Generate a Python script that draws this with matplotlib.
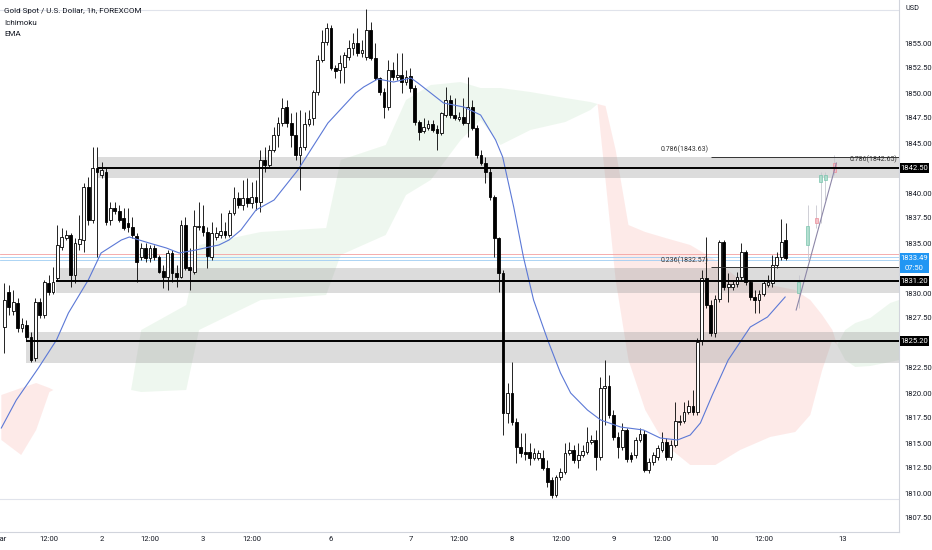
import matplotlib
matplotlib.use("Agg")
import matplotlib.pyplot as plt
import numpy as np
from matplotlib.patches import Rectangle
from matplotlib.ticker import FormatStrFormatter
from matplotlib.transforms import blended_transform_factory

plt.rcParams['font.family'] = ['Liberation Sans Narrow', 'Roboto', 'DejaVu Sans']

# hourly candles
opens = [1826.6, 1830.1, 1828.2, 1829.0, 1826.5, 1826.8, 1825.6, 1823.5, 1829.1, 1827.8,
         1831.0, 1830.1, 1831.5, 1834.6, 1835.5, 1835.8, 1831.8, 1834.9, 1835.3, 1840.6,
         1837.3, 1842.5, 1841.8, 1842.1, 1837.3, 1838.5, 1838.2, 1837.5, 1837.0, 1836.6,
         1835.7, 1833.6, 1834.5, 1833.5, 1834.5, 1833.6, 1832.2, 1831.6, 1834.0, 1832.0,
         1831.6, 1836.8, 1832.6, 1832.1, 1836.6, 1836.7, 1836.1, 1833.6, 1835.6, 1835.8,
         1836.2, 1835.8, 1838.0, 1839.5, 1838.8, 1839.5, 1839.0, 1839.6, 1839.1, 1843.3,
         1842.8, 1844.3, 1845.8, 1847.0, 1848.6, 1847.0, 1845.8, 1843.8, 1844.6, 1846.9,
         1847.5, 1850.1, 1853.3, 1855.1, 1856.5, 1852.5, 1852.3, 1852.6, 1853.6, 1854.5,
         1855.0, 1854.0, 1853.6, 1856.3, 1853.5, 1851.5, 1850.1, 1848.6, 1852.3, 1851.6,
         1851.8, 1851.1, 1851.7, 1850.5, 1847.1, 1846.2, 1846.5, 1846.9, 1846.4, 1846.0,
         1847.8, 1849.3, 1847.8, 1847.4, 1847.6, 1847.0, 1848.6, 1846.5, 1843.8, 1843.0,
         1842.1, 1839.6, 1835.5, 1832.0, 1818.0, 1820.0, 1817.1, 1814.6, 1814.1, 1814.1,
         1813.5, 1813.5, 1813.5, 1812.5, 1811.3, 1809.8, 1811.6, 1812.1, 1814.0, 1814.3,
         1813.3, 1813.8, 1814.1, 1815.1, 1815.3, 1813.6, 1820.5, 1820.7, 1817.8, 1815.6,
         1814.6, 1816.3, 1813.8, 1813.8, 1815.3, 1815.9, 1812.3, 1813.1, 1813.6, 1814.3,
         1815.1, 1813.6, 1814.8, 1817.1, 1817.2, 1818.1, 1818.7, 1818.1, 1825.3, 1831.5,
         1828.8, 1826.0, 1829.4, 1835.1, 1830.6, 1830.6, 1830.9, 1831.6, 1834.1, 1831.1,
         1829.6, 1829.3, 1829.9, 1830.8, 1831.0, 1832.8, 1833.6, 1835.3]
highs = [1831.0, 1830.8, 1830.3, 1829.5, 1827.5, 1827.3, 1826.1, 1829.5, 1829.5, 1831.3,
         1831.8, 1832.6, 1836.8, 1836.5, 1836.3, 1836.0, 1835.5, 1837.8, 1841.0, 1841.6,
         1844.6, 1844.6, 1843.1, 1842.5, 1839.1, 1839.1, 1838.8, 1838.5, 1838.5, 1837.6,
         1836.0, 1835.0, 1835.0, 1834.8, 1834.8, 1833.8, 1832.8, 1834.3, 1834.3, 1832.8,
         1837.3, 1837.6, 1834.5, 1838.3, 1839.1, 1838.8, 1836.6, 1837.1, 1836.6, 1838.0,
         1837.1, 1838.3, 1840.6, 1840.1, 1841.3, 1841.5, 1841.1, 1841.3, 1844.3, 1844.6,
         1844.8, 1846.6, 1847.6, 1849.5, 1849.3, 1848.0, 1848.1, 1848.3, 1848.1, 1848.3,
         1850.3, 1853.8, 1856.3, 1857.0, 1856.8, 1852.8, 1853.8, 1854.1, 1855.3, 1856.0,
         1856.5, 1855.3, 1858.4, 1857.1, 1855.0, 1851.6, 1850.5, 1853.3, 1853.1, 1854.0,
         1854.0, 1852.3, 1852.5, 1850.8, 1847.3, 1847.5, 1847.3, 1847.3, 1846.8, 1848.1,
         1850.6, 1849.8, 1849.5, 1848.1, 1849.5, 1851.6, 1849.3, 1846.8, 1844.3, 1843.6,
         1842.6, 1839.8, 1835.6, 1832.3, 1821.0, 1823.1, 1817.5, 1816.0, 1816.0, 1815.0,
         1814.5, 1814.3, 1814.3, 1813.3, 1811.6, 1811.8, 1812.5, 1815.0, 1815.1, 1814.8,
         1815.0, 1814.8, 1816.6, 1815.8, 1816.3, 1821.6, 1823.3, 1821.8, 1818.3, 1816.1,
         1817.0, 1816.5, 1814.1, 1815.6, 1816.5, 1816.3, 1813.5, 1814.1, 1814.8, 1816.1,
         1815.5, 1815.3, 1819.1, 1817.8, 1819.1, 1819.3, 1820.3, 1825.5, 1832.3, 1835.6,
         1829.3, 1829.8, 1835.3, 1835.3, 1832.0, 1831.3, 1832.1, 1835.0, 1834.3, 1831.3,
         1830.3, 1830.3, 1831.3, 1831.8, 1833.8, 1834.1, 1837.4, 1837.0]
lows = [1824.0, 1827.8, 1827.8, 1826.1, 1826.1, 1825.3, 1823.1, 1823.2, 1827.5, 1827.5,
        1829.8, 1829.9, 1831.3, 1834.3, 1835.3, 1830.6, 1831.0, 1834.3, 1834.1, 1836.8,
        1837.0, 1833.6, 1841.5, 1836.8, 1836.8, 1837.9, 1837.1, 1836.3, 1836.1, 1835.5,
        1831.1, 1833.3, 1833.1, 1833.1, 1833.3, 1832.0, 1830.5, 1830.3, 1831.1, 1830.6,
        1831.5, 1832.3, 1830.3, 1831.9, 1836.3, 1835.7, 1832.5, 1833.3, 1835.3, 1835.5,
        1835.5, 1835.6, 1837.8, 1838.5, 1838.3, 1838.6, 1838.5, 1838.3, 1838.1, 1842.1,
        1842.5, 1844.1, 1844.6, 1846.7, 1846.6, 1844.6, 1843.3, 1840.3, 1844.3, 1846.7,
        1846.8, 1849.8, 1853.1, 1854.8, 1852.3, 1851.5, 1851.0, 1851.0, 1853.3, 1853.8,
        1853.7, 1853.6, 1853.3, 1853.3, 1851.3, 1849.8, 1847.5, 1848.3, 1851.3, 1851.3,
        1850.0, 1850.8, 1850.1, 1846.8, 1845.3, 1846.0, 1846.3, 1846.1, 1844.3, 1845.8,
        1847.6, 1847.5, 1847.3, 1847.2, 1846.8, 1845.6, 1846.3, 1843.5, 1842.8, 1841.0,
        1839.3, 1833.6, 1830.1, 1815.8, 1817.0, 1816.8, 1813.0, 1813.6, 1813.3, 1812.8,
        1813.3, 1813.3, 1812.3, 1810.6, 1809.5, 1809.6, 1811.3, 1811.9, 1813.8, 1813.0,
        1812.5, 1813.6, 1813.9, 1814.9, 1812.3, 1813.3, 1816.8, 1817.5, 1815.3, 1813.5,
        1814.3, 1813.1, 1813.1, 1813.5, 1815.1, 1812.1, 1812.0, 1812.8, 1813.3, 1814.1,
        1813.3, 1813.3, 1814.6, 1816.8, 1817.0, 1817.9, 1817.8, 1817.8, 1824.8, 1828.5,
        1825.7, 1825.6, 1829.1, 1830.3, 1829.1, 1830.3, 1830.6, 1831.3, 1830.8, 1829.3,
        1828.0, 1828.0, 1829.7, 1830.6, 1830.6, 1832.5, 1833.3, 1833.3]
closes = [1829.3, 1828.6, 1829.1, 1826.5, 1826.9, 1825.6, 1823.3, 1829.1, 1827.8, 1831.1,
          1830.1, 1831.1, 1834.8, 1835.6, 1835.8, 1831.8, 1835.0, 1835.4, 1840.6, 1837.3,
          1842.5, 1842.1, 1842.3, 1837.1, 1838.5, 1838.2, 1837.3, 1836.5, 1836.6, 1835.8,
          1833.1, 1834.5, 1833.5, 1834.5, 1833.6, 1832.1, 1831.6, 1834.0, 1832.0, 1831.6,
          1836.8, 1832.5, 1832.3, 1836.7, 1836.7, 1836.1, 1833.7, 1836.0, 1836.0, 1836.2,
          1835.8, 1838.0, 1839.5, 1838.8, 1839.5, 1839.0, 1839.6, 1839.1, 1843.3, 1842.8,
          1844.3, 1845.8, 1847.0, 1848.5, 1847.0, 1845.8, 1843.8, 1844.6, 1846.9, 1847.4,
          1850.1, 1853.3, 1855.1, 1856.5, 1852.5, 1852.2, 1853.0, 1853.8, 1854.5, 1855.0,
          1854.0, 1854.3, 1856.3, 1853.5, 1851.5, 1850.1, 1848.6, 1852.3, 1851.6, 1851.8,
          1851.1, 1851.6, 1850.5, 1847.1, 1846.1, 1846.6, 1846.9, 1846.3, 1846.0, 1848.0,
          1849.3, 1847.8, 1847.5, 1847.6, 1847.0, 1848.6, 1846.5, 1843.8, 1843.0, 1842.1,
          1839.6, 1835.5, 1832.0, 1818.0, 1820.0, 1817.1, 1814.6, 1814.0, 1813.9, 1813.5,
          1814.0, 1814.0, 1812.5, 1811.1, 1809.8, 1811.6, 1812.1, 1814.0, 1814.3, 1813.3,
          1813.8, 1814.2, 1815.1, 1815.3, 1813.6, 1820.5, 1820.7, 1817.8, 1815.6, 1814.6,
          1816.3, 1813.4, 1813.4, 1815.3, 1815.9, 1812.3, 1813.1, 1813.8, 1814.5, 1815.1,
          1813.6, 1814.8, 1817.2, 1817.2, 1818.1, 1818.7, 1818.1, 1825.1, 1831.5, 1828.8,
          1826.0, 1829.4, 1835.1, 1830.6, 1830.9, 1830.9, 1831.6, 1834.1, 1831.1, 1829.6,
          1829.3, 1829.9, 1831.0, 1831.1, 1832.8, 1833.6, 1835.1, 1833.49]

# EMA line (bar index, price)
ema_x = [-0.7, 2.7, 7.7, 11.8, 14.5, 19.0, 21.9, 26.5, 28.3, 32.8,
         36.7, 39.6, 43.4, 46.4, 48.6, 50.9, 53.6, 57.0, 61.1, 66.5,
         73.3, 79.6, 81.4, 84.6, 88.2, 92.1, 93.7, 96.6, 99.5, 104.1,
         107.9, 111.3, 112.9, 115.4, 117.6, 119.9, 123.1, 126.0, 128.3, 132.1,
         135.1, 139.6, 144.8, 148.6, 152.5, 155.4, 157.7, 160.4, 164.0, 169.0,
         172.9, 176.9]
ema_y = [1816.5, 1819.3, 1822.5, 1825.3, 1828.0, 1831.3, 1834.0, 1835.3, 1835.6, 1835.0,
         1834.5, 1834.0, 1834.3, 1834.6, 1834.8, 1835.3, 1836.3, 1838.3, 1839.3, 1842.3,
         1847.0, 1850.0, 1850.6, 1851.4, 1851.1, 1851.5, 1851.0, 1850.0, 1849.0, 1848.6,
         1847.8, 1845.3, 1843.6, 1838.6, 1833.6, 1829.3, 1825.3, 1822.0, 1820.0, 1818.3,
         1817.3, 1816.6, 1816.3, 1815.5, 1815.3, 1815.8, 1817.0, 1819.8, 1823.3, 1826.6,
         1827.6, 1829.6]

# Ichimoku cloud spans
cloud_x = [-0.7, 3.8, 7.2, 10.2, 11.1, 28.7, 31.0, 41.2, 44.1, 58.1,
           72.9, 76.2, 86.4, 91.0, 96.6, 103.4, 107.9, 112.4, 119.2, 127.1,
           132.8, 134.4, 136.2, 138.5, 141.4, 145.2, 149.8, 155.4, 161.1, 166.7,
           173.5, 179.2, 182.6, 185.3, 187.6, 188.7, 190.5, 192.8, 196.2, 200.7, 202.7]
span_a = [1815.3, 1813.8, 1816.3, 1820.1, 1820.3, 1820.3, 1826.3, 1828.8, 1834.8, 1836.1,
          1836.5, 1843.3, 1844.8, 1849.3, 1850.8, 1851.1, 1850.5, 1850.5, 1850.1, 1849.5,
          1849.1, 1848.9, 1841.3, 1831.3, 1823.3, 1818.3, 1814.8, 1812.8, 1812.8, 1814.3,
          1815.6, 1816.1, 1817.8, 1822.3, 1825.3, 1824.8, 1826.3, 1827.0, 1827.5, 1829.0, 1829.3]
span_b = [1819.8, 1820.5, 1821.0, 1820.5, 1820.3, 1820.3, 1820.1, 1820.3, 1826.3, 1829.3,
          1829.8, 1833.8, 1835.8, 1839.8, 1841.3, 1845.3, 1847.3, 1844.8, 1846.3, 1847.1,
          1848.3, 1848.9, 1848.7, 1844.3, 1836.8, 1836.1, 1835.5, 1834.8, 1833.3, 1831.3,
          1830.8, 1830.3, 1829.3, 1827.8, 1826.3, 1824.8, 1823.3, 1822.6, 1822.7, 1823.1, 1823.3]

# projected (ghost) bars
proj_x = [180, 182, 184, 185, 186, 188]
proj_open = [1830.0, 1834.8, 1837.5, 1841.1, 1841.3, 1843.0]
proj_high = [1831.8, 1838.8, 1838.8, 1842.1, 1842.1, 1843.8]
proj_low = [1828.5, 1833.3, 1836.5, 1837.0, 1839.3, 1841.8]
proj_close = [1831.1, 1836.7, 1837.0, 1841.8, 1841.8, 1842.1]
proj_line_x = [179.4, 188.5]
proj_line_y = [1828.3, 1843.0]

# support / resistance zones
levels = [1842.5, 1831.2, 1825.2]
zone_start = [21.3, 11.8, 5.0]
zone_low = [1841.5, 1830.0, 1823.0]
zone_high = [1843.6, 1832.5, 1826.1]

fib_levels = [1843.63, 1832.57]
fib_labels = ['0.786(1843.63)', '0.236(1832.57)']

price_ticks = [1807.5, 1810.0, 1812.5, 1815.0, 1817.5, 1820.0, 1822.5, 1827.5,
               1830.0, 1835.0, 1837.5, 1840.0, 1845.0, 1847.5, 1850.0, 1852.5, 1855.0]
tick_pos = [-1, 10, 22, 33, 45, 56, 74, 92, 103, 115, 126, 138, 149, 161, 172, 190]
tick_labels = ['Mar', '12:00', '2', '12:00', '3', '12:00', '6', '7', '12:00', '8',
               '12:00', '9', '12:00', '10', '12:00', '13']

last_price = 1833.49
X_MAX = 202.7

fig = plt.figure(figsize=(9.32, 5.5), dpi=100)
ax = fig.add_axes([0, 18 / 550, 899 / 932, 532 / 550])
ax.set_xlim(-0.68, X_MAX)
ax.set_ylim(1806.1, 1859.3)

o = np.array(opens)
h = np.array(highs)
l = np.array(lows)
c = np.array(closes)
idx = np.arange(len(o))
up = c >= o

# cloud
cx = np.array(cloud_x)
sa = np.array(span_a)
sb = np.array(span_b)
ax.fill_between(cx, sa, sb, where=sa >= sb, interpolate=True, color='#4caf50', alpha=0.09, lw=0, zorder=1)
ax.fill_between(cx, sa, sb, where=sa < sb, interpolate=True, color='#f44336', alpha=0.11, lw=0, zorder=1)

# zones and levels
for lev, x0, lo, hi in zip(levels, zone_start, zone_low, zone_high):
    ax.fill_between([x0, X_MAX], lo, hi, color='#9e9e9e', alpha=0.36, lw=0, zorder=2)
    ax.hlines(lev, x0, X_MAX, color='black', lw=1.4, zorder=6)

ax.axhline(1858.3, color='#e0e3eb', lw=0.8, zorder=1)
ax.axhline(1809.4, color='#e0e3eb', lw=0.8, zorder=1)

# current price lines
ax.axhline(1833.9, color='#f4a0a0', lw=0.6, zorder=2)
ax.axhline(1833.6, color='#9fcdf3', lw=0.6, zorder=2)
ax.axhline(1833.35, color='#9fcdf3', lw=0.6, zorder=2)

# fib lines
for lev, lab in zip(fib_levels, fib_labels):
    ax.hlines(lev, 160, X_MAX, color='#333333', lw=0.7, zorder=6)
    ax.text(154.1, lev + 0.7, lab, fontsize=5, ha='center', va='center', color='#333333', zorder=7)
ax.text(197.0, 1842.65 + 0.75, '0.786(1842.65)', fontsize=5, ha='center', va='center',
        color='#333333', zorder=7)

# EMA
ax.plot(ema_x, ema_y, color='#5b78d6', lw=0.8, zorder=5)

# candles
ax.vlines(idx, l, h, color='black', lw=0.6, zorder=3)
ax.bar(idx[up], (c - o)[up], bottom=o[up], width=0.62, facecolor='white',
       edgecolor='black', lw=0.6, zorder=4)
ax.bar(idx[~up], (o - c)[~up], bottom=c[~up], width=0.62, facecolor='black',
       edgecolor='black', lw=0.6, zorder=4)

# ghost projection
po = np.array(proj_open)
pc = np.array(proj_close)
px_ = np.array(proj_x)
pup = pc >= po
ax.vlines(px_, proj_low, proj_high, color='#c7c7d0', lw=0.6, zorder=3)
ax.bar(px_[pup], (pc - po)[pup], bottom=po[pup], width=0.7, facecolor='#a8dccb',
       edgecolor='#7cc4ae', lw=0.6, zorder=4, alpha=0.85)
ax.bar(px_[~pup], (po - pc)[~pup], bottom=pc[~pup], width=0.7, facecolor='#f6b9c1',
       edgecolor='#e98f9b', lw=0.6, zorder=4, alpha=0.85)
ax.plot(proj_line_x, proj_line_y, color='#8d87a8', lw=0.8, zorder=5)

# axes styling
for s in ['top', 'left']:
    ax.spines[s].set_visible(False)
for s in ['right', 'bottom']:
    ax.spines[s].set_color('#d1d4dc')
    ax.spines[s].set_linewidth(0.8)

ax.yaxis.tick_right()
ax.set_yticks(price_ticks)
ax.yaxis.set_major_formatter(FormatStrFormatter('%.2f'))
ax.tick_params(axis='y', length=0, pad=3.8, labelsize=5.5, labelcolor='#131722')
ax.set_xticks(tick_pos)
ax.set_xticklabels(tick_labels)
ax.tick_params(axis='x', length=0, pad=3, labelsize=5.5, labelcolor='#131722')

# price labels on right scale
tr = blended_transform_factory(fig.transFigure, ax.transData)
x_lab0 = 900 / 932
x_labw = 29 / 932
for lev in levels:
    ax.add_patch(Rectangle((x_lab0, lev - 0.5), x_labw, 1.0, transform=tr,
                           facecolor='black', edgecolor='none', clip_on=False, zorder=10))
    ax.text(x_lab0 + x_labw / 2, lev, '%.2f' % lev, transform=tr, color='white',
            fontsize=5.5, ha='center', va='center', clip_on=False, zorder=11)
ax.add_patch(Rectangle((x_lab0, last_price - 1.5), x_labw, 2.0, transform=tr,
                       facecolor='#2196f3', edgecolor='none', clip_on=False, zorder=10))
ax.text(x_lab0 + x_labw / 2, last_price, '%.2f' % last_price, transform=tr, color='white',
        fontsize=5.5, ha='center', va='center', clip_on=False, zorder=11)
ax.text(x_lab0 + x_labw / 2, last_price - 1.0, '07:50', transform=tr, color='white',
        fontsize=5.5, ha='center', va='center', clip_on=False, zorder=11)

# legend / header text
fig.text(4 / 932, 1 - 11 / 550, 'Gold Spot / U.S. Dollar, 1h, FOREXCOM', fontsize=5.8,
         va='center', ha='left', color='#131722')
fig.text(4 / 932, 1 - 23 / 550, 'Ichimoku', fontsize=5.8, va='center', ha='left', color='#131722')
fig.text(4 / 932, 1 - 34 / 550, 'EMA', fontsize=5.8, va='center', ha='left', color='#131722')
fig.text(905 / 932, 1 - 9 / 550, 'USD', fontsize=5.2, va='center', ha='left', color='#131722')

fig.savefig('out.png', dpi=100)
